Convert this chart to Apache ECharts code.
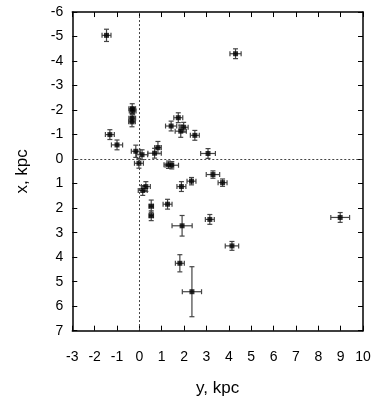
<html>
  <head>
    <title>kpc scatter</title>
    <script src="https://cdn.jsdelivr.net/npm/echarts@6/dist/echarts.min.js"></script>
    <style>
      html, body { margin: 0; padding: 0; background: #fff; }
      #chart { width: 392px; height: 408px; }
    </style>
  </head>
  <body>
    <div id="chart"></div>
    <script>
      // horizontal axis: y, kpc ; vertical axis: x, kpc
      var yKpc = [-1.47, 4.3, -1.32, -1.0, -0.32, -0.30, -0.32, -0.33, -0.16, 0.12, -0.02, 0.68,
        0.83, 1.42, 1.74, 1.98, 1.85, 2.48, 3.07, 1.3, 1.45, 0.15, 0.29, 0.53, 0.53, 1.26,
        1.88, 2.33, 3.29, 3.72, 1.91, 3.15, 1.81, 2.35, 8.98, 4.14]
      var xKpc = [-5.05, -4.3, -1.0, -0.58, -2.06, -1.96, -1.67, -1.52, -0.32, -0.18, 0.17, -0.24,
        -0.47, -1.35, -1.69, -1.3, -1.14, -0.97, -0.23, 0.23, 0.25, 1.28, 1.12, 1.92, 2.31, 1.84,
        1.12, 0.9, 0.63, 0.96, 2.72, 2.46, 4.25, 5.41, 2.38, 3.54]
      var yErr = [0.2, 0.25, 0.2, 0.25, 0.15, 0.15, 0.15, 0.15, 0.2, 0.25, 0.2, 0.3,
        0.15, 0.25, 0.2, 0.2, 0.25, 0.2, 0.33, 0.2, 0.3, 0.2, 0.2, 0.1, 0.1, 0.2,
        0.2, 0.2, 0.3, 0.2, 0.45, 0.2, 0.2, 0.43, 0.42, 0.3]
      var xErr = [0.25, 0.2, 0.2, 0.2, 0.2, 0.15, 0.15, 0.2, 0.25, 0.2, 0.2, 0.2,
        0.25, 0.2, 0.2, 0.2, 0.25, 0.2, 0.2, 0.15, 0.15, 0.2, 0.2, 0.25, 0.2, 0.2,
        0.2, 0.15, 0.15, 0.15, 0.42, 0.2, 0.35, 1.02, 0.2, 0.18]
      var xTicks = [-3, 10]
      var yTicks = [-6, 7]

      var points = yKpc.map(function (v, i) { return [v, xKpc[i]] })
      var errData = yKpc.map(function (v, i) { return [v, xKpc[i], yErr[i], xErr[i]] })

      var font = 'Liberation Sans, Arial, sans-serif'
      var chart = echarts.init(document.getElementById('chart'))

      // error bars with caps
      function renderErr(params, api) {
        var x = api.value(0), y = api.value(1), ex = api.value(2), ey = api.value(3)
        var l = api.coord([x - ex, y]), r = api.coord([x + ex, y])
        var t = api.coord([x, y - ey]), b = api.coord([x, y + ey])
        var c = 2.5
        var st = { stroke: '#444', lineWidth: 1.2 }
        var lines = [
          [l[0], l[1], r[0], r[1]],
          [l[0], l[1] - c, l[0], l[1] + c],
          [r[0], r[1] - c, r[0], r[1] + c],
          [t[0], t[1], b[0], b[1]],
          [t[0] - c, t[1], t[0] + c, t[1]],
          [b[0] - c, b[1], b[0] + c, b[1]]
        ]
        return {
          type: 'group',
          children: lines.map(function (p) {
            return { type: 'line', shape: { x1: p[0], y1: p[1], x2: p[2], y2: p[3] }, style: st }
          })
        }
      }

      var tickStyle = { show: true, inside: true, length: 5, lineStyle: { color: '#000' } }
      var lineStyle = { show: true, onZero: false, lineStyle: { color: '#000', width: 1.5 } }

      chart.setOption({
        animation: false,
        grid: { left: 62, right: 29, top: 9, bottom: 71 },
        xAxis: [
          {
            type: 'value', min: xTicks[0], max: xTicks[1], interval: 1,
            name: 'y, kpc', nameLocation: 'middle', nameGap: 36,
            nameTextStyle: { fontFamily: font, fontSize: 17, color: '#000' },
            axisLine: lineStyle,
            axisTick: tickStyle,
            axisLabel: { fontFamily: font, fontSize: 14, color: '#000', margin: 14 },
            splitLine: { show: false }
          },
          {
            type: 'value', position: 'top', min: xTicks[0], max: xTicks[1], interval: 1,
            axisLine: lineStyle,
            axisTick: tickStyle, axisLabel: { show: false }, splitLine: { show: false }
          }
        ],
        yAxis: [
          {
            type: 'value', inverse: true, min: yTicks[0], max: yTicks[1], interval: 1,
            name: 'x, kpc', nameLocation: 'middle', nameGap: 35, nameRotate: 90,
            nameTextStyle: { fontFamily: font, fontSize: 17, color: '#000' },
            axisLine: lineStyle,
            axisTick: tickStyle,
            axisLabel: { fontFamily: font, fontSize: 14, color: '#000', margin: 9 },
            splitLine: { show: false }
          },
          {
            type: 'value', position: 'right', inverse: true, min: yTicks[0], max: yTicks[1], interval: 1,
            axisLine: lineStyle,
            axisTick: tickStyle, axisLabel: { show: false }, splitLine: { show: false }
          }
        ],
        series: [
          {
            type: 'custom',
            renderItem: renderErr,
            data: errData,
            z: 2,
            markLine: {
              silent: true, symbol: 'none', label: { show: false },
              lineStyle: { color: '#444', type: [2, 2], width: 1 },
              data: [{ xAxis: 0 }, { yAxis: 0 }]
            }
          },
          {
            type: 'scatter',
            symbol: 'rect',
            symbolSize: 5,
            itemStyle: { color: '#000' },
            data: points,
            z: 3
          }
        ]
      })
    </script>
  </body>
</html>
